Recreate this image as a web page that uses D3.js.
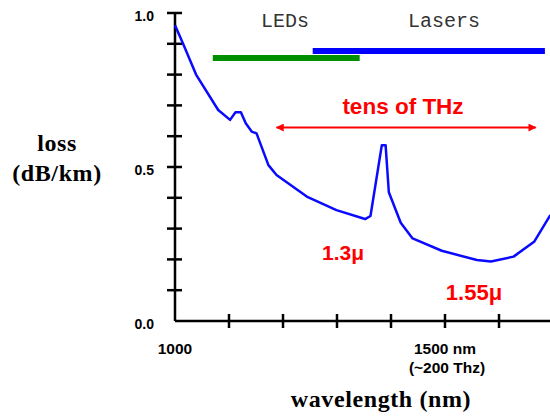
<!DOCTYPE html>
<html>
<head>
<meta charset="utf-8">
<script src="https://cdn.jsdelivr.net/npm/d3@7"></script>
<style>
  html, body { margin: 0; padding: 0; background: #ffffff; }
  svg { display: block; }
</style>
</head>
<body>
<div id="chart"></div>
<script>
// Fibre attenuation curve
const wavelengthNm = [1000, 1015, 1039, 1080, 1102, 1112, 1122, 1131, 1142, 1151, 1173, 1188, 1244, 1299, 1352, 1362, 1383, 1390, 1396, 1418, 1440, 1494, 1559, 1585, 1627, 1665, 1695];
const lossDbKm = [0.96, 0.90, 0.80, 0.685, 0.653, 0.678, 0.678, 0.642, 0.615, 0.609, 0.506, 0.474, 0.404, 0.360, 0.331, 0.341, 0.571, 0.571, 0.418, 0.319, 0.268, 0.228, 0.198, 0.193, 0.209, 0.257, 0.344];

// source bands (nm) and the loss level where each band is drawn
const bandNames = ['LEDs', 'Lasers'];
const bandRanges = [[1070, 1342], [1255, 1685]];
const bandLevels = [0.854, 0.877];
const bandColors = ['#008f00', '#0000ff'];

// usable window arrow
const windowRange = [1188, 1668];
const windowLevel = 0.628;

const yTicks = d3.range(0, 1.0001, 0.1);
const yLabelTicks = [0, 0.5, 1.0];
const xTicks = [1100, 1200, 1300, 1400, 1500, 1600];

const width = 550, height = 416;

const svg = d3.select('#chart').append('svg')
    .attr('width', width)
    .attr('height', height);

const x = d3.scaleLinear().domain([1000, 1500]).range([175, 445]);
const y = d3.scaleLinear().domain([0, 1]).range([321, 13]);

const sansBold = 'Arial, "Liberation Sans", Helvetica, sans-serif';
const serifBold = '"Palatino Linotype", Palatino, "Liberation Serif", serif';

// axes: plain lines with ticks crossing them
const axes = svg.append('g').attr('stroke', '#000').attr('stroke-width', 2.5);
axes.append('line')
    .attr('x1', x(1000)).attr('x2', x(1000))
    .attr('y1', y(0)).attr('y2', y(1));
axes.append('line')
    .attr('x1', x(1000)).attr('x2', width)
    .attr('y1', y(0)).attr('y2', y(0));

axes.selectAll('.ytick')
    .data(yTicks.slice(1))
    .join('line')
    .attr('class', 'ytick')
    .attr('x1', x(1000) - 8).attr('x2', x(1000) + 7)
    .attr('y1', d => y(d)).attr('y2', d => y(d));

axes.selectAll('.xtick')
    .data(xTicks)
    .join('line')
    .attr('class', 'xtick')
    .attr('x1', d => x(d)).attr('x2', d => x(d))
    .attr('y1', y(0) - 7).attr('y2', y(0) + 7);

svg.selectAll('.ylabel')
    .data(yLabelTicks)
    .join('text')
    .attr('class', 'ylabel')
    .attr('x', x(1000) - 21)
    .attr('y', d => y(d) + 8)
    .attr('text-anchor', 'end')
    .style('font-family', sansBold)
    .style('font-weight', 'bold')
    .style('font-size', '14px')
    .text(d3.format('.1f'));

const xLabels = svg.append('g')
    .style('font-family', sansBold)
    .style('font-weight', 'bold')
    .style('font-size', '15.5px')
    .attr('text-anchor', 'middle');
xLabels.append('text').attr('x', x(1000)).attr('y', 354).text('1000');
xLabels.append('text').attr('x', x(1500)).attr('y', 354).text('1500 nm');
xLabels.append('text').attr('x', x(1500) + 2).attr('y', 373).text('(~200 Thz)');

// axis titles
const titles = svg.append('g')
    .style('font-family', serifBold)
    .style('font-weight', 'bold')
    .style('font-size', '24px')
    .style('letter-spacing', '0.6px')
    .attr('text-anchor', 'middle');
titles.append('text').attr('x', 57).attr('y', 151).text('loss');
titles.append('text').attr('x', 57).attr('y', 181).text('(dB/km)');
titles.append('text').attr('x', 381).attr('y', 407).text('wavelength (nm)');

// source bands
svg.selectAll('.band')
    .data(bandRanges)
    .join('line')
    .attr('class', 'band')
    .attr('x1', d => x(d[0])).attr('x2', d => x(d[1]))
    .attr('y1', (d, i) => y(bandLevels[i])).attr('y2', (d, i) => y(bandLevels[i]))
    .attr('stroke', (d, i) => bandColors[i])
    .attr('stroke-width', 6);

svg.selectAll('.bandName')
    .data(bandNames)
    .join('text')
    .attr('class', 'bandName')
    .attr('x', (d, i) => i === 0 ? 285 : 444)
    .attr('y', 27)
    .attr('text-anchor', 'middle')
    .style('font-family', '"Courier New", Courier, "Liberation Mono", monospace')
    .style('font-size', '20px')
    .style('fill', '#333')
    .text(d => d);

// attenuation curve
const line = d3.line()
    .x(d => x(d[0]))
    .y(d => y(d[1]));

svg.append('path')
    .datum(wavelengthNm.map((w, i) => [w, lossDbKm[i]]))
    .attr('d', line)
    .attr('fill', 'none')
    .attr('stroke', '#0a0aff')
    .attr('stroke-width', 2.5)
    .attr('stroke-linejoin', 'round');

// double-headed red arrow
const defs = svg.append('defs');
defs.append('marker')
    .attr('id', 'head')
    .attr('viewBox', '0 0 10 10')
    .attr('refX', 9).attr('refY', 5)
    .attr('markerWidth', 5).attr('markerHeight', 4)
    .attr('markerUnits', 'strokeWidth')
    .attr('orient', 'auto-start-reverse')
    .append('path')
    .attr('d', 'M0,0 L10,5 L0,10 Z')
    .attr('fill', '#ff0000');

svg.append('line')
    .attr('x1', x(windowRange[0])).attr('x2', x(windowRange[1]))
    .attr('y1', y(windowLevel)).attr('y2', y(windowLevel))
    .attr('stroke', '#ff0000')
    .attr('stroke-width', 2)
    .attr('marker-start', 'url(#head)')
    .attr('marker-end', 'url(#head)');

const redText = svg.append('g')
    .style('font-family', sansBold)
    .style('font-weight', 'bold')
    .style('fill', '#ff0000')
    .attr('text-anchor', 'middle');
redText.append('text').attr('x', 403).attr('y', 114).style('font-size', '22.5px').text('tens of THz');
redText.append('text').attr('x', 343).attr('y', 260).style('font-size', '21px').text('1.3\u03bc');
redText.append('text').attr('x', 474).attr('y', 300).style('font-size', '22px').text('1.55\u03bc');
</script>
</body>
</html>
